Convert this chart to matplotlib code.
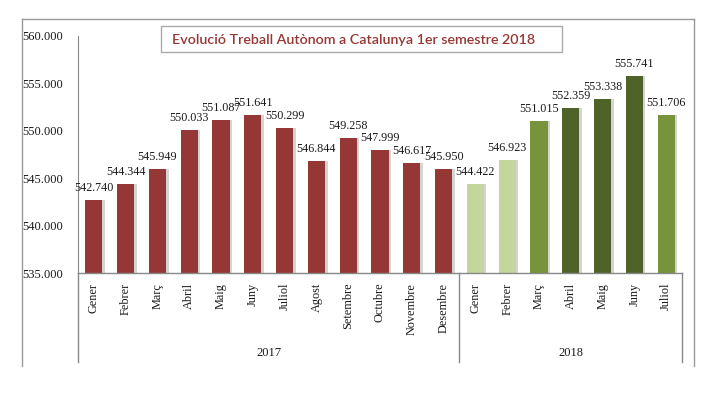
import numpy as np
import matplotlib.pyplot as plt
from matplotlib.patches import Rectangle
from matplotlib.lines import Line2D
import matplotlib.transforms as mtransforms

mesos_2017 = ['Gener', 'Febrer', 'Març', 'Abril', 'Maig', 'Juny', 'Juliol', 'Agost',
              'Setembre', 'Octubre', 'Novembre', 'Desembre']
mesos_2018 = ['Gener', 'Febrer', 'Març', 'Abril', 'Maig', 'Juny', 'Juliol']
valors_2017 = [542740, 544344, 545949, 550033, 551087, 551641, 550299, 546844,
               549258, 547999, 546617, 545950]
valors_2018 = [544422, 546923, 551015, 552359, 553338, 555741, 551706]

vermell = '#953735'
verd_clar = '#C3D69B'
verd = '#77933C'
verd_fosc = '#4F6228'
colors_2018 = [verd_clar, verd_clar, verd, verd_fosc, verd_fosc, verd_fosc, verd]

W, H = 721, 397
fig = plt.figure(figsize=(W / 100, H / 100), dpi=100)
ax = fig.add_axes([78 / W, (H - 273) / H, 604 / W, 237 / H])

valors = valors_2017 + valors_2018
mesos = mesos_2017 + mesos_2018
colors = [vermell] * len(valors_2017) + colors_2018
x = np.arange(len(valors))

# ombra de les barres
ax.bar(x + 0.08, valors, width=0.54, color='#d4d4d4', zorder=1)
ax.bar(x, valors, width=0.54, color=colors, zorder=2)

for xi, v in zip(x, valors):
    ax.annotate(f'{v / 1000:.3f}', (xi, v), xytext=(0, 6.5), textcoords='offset points',
                ha='center', va='baseline', fontsize=8.7, family='Liberation Serif', color='#1a1a1a')

ax.set_xlim(-0.5, len(valors) - 0.5)
ax.set_ylim(535000, 560000)
ax.set_yticks(np.arange(535000, 560001, 5000))
ax.set_yticklabels([f'{v / 1000:.3f}' for v in np.arange(535000, 560001, 5000)],
                   family='Liberation Serif', fontsize=9, color='#1a1a1a')
ax.set_xticks(x)
ax.set_xticklabels(mesos, rotation=90, va='top', ha='center',
                   family='Liberation Serif', fontsize=8.8, color='#1a1a1a')
ax.tick_params(axis='y', length=0, pad=11)
ax.tick_params(axis='x', length=0, pad=7)

for s in ['top', 'right', 'bottom']:
    ax.spines[s].set_visible(False)
ax.spines['left'].set_color('#888888')

trans = mtransforms.blended_transform_factory(ax.transData, ax.transAxes)
baix = -(362 - 273) / 237
ax.add_line(Line2D([-0.5, len(valors) - 0.5], [0, 0], transform=trans, color='#888888',
                   lw=1, clip_on=False, zorder=3))
for xs in [-0.5, 11.5, len(valors) - 0.5]:
    ax.add_line(Line2D([xs, xs], [0, baix], transform=trans, color='#888888',
                       lw=1, clip_on=False))

ax.text(5.5, -(353 - 273) / 237, '2017', transform=trans, ha='center', va='center',
        family='Liberation Serif', fontsize=9, color='#1a1a1a')
ax.text(15, -(353 - 273) / 237, '2018', transform=trans, ha='center', va='center',
        family='Liberation Serif', fontsize=9, color='#1a1a1a')

# marc exterior
for xs in [22, 694]:
    fig.add_artist(Line2D([xs / W, xs / W], [(H - 366) / H, (H - 19) / H],
                          color='#999999', lw=1))
fig.add_artist(Line2D([22 / W, 694 / W], [(H - 19) / H, (H - 19) / H], color='#999999', lw=1))

# títol
fig.add_artist(Rectangle((161 / W, (H - 52) / H), 401 / W, 26 / H, transform=fig.transFigure,
                         facecolor='white', edgecolor='#aaaaaa', lw=1))
fig.text(354 / W, (H - 39.5) / H, 'Evolució Treball Autònom a Catalunya 1er semestre 2018',
         ha='center', va='center', fontsize=10.3, color=vermell, weight='semibold',
         family=['Lato', 'DejaVu Sans'])

fig.savefig('out.png', dpi=100)
